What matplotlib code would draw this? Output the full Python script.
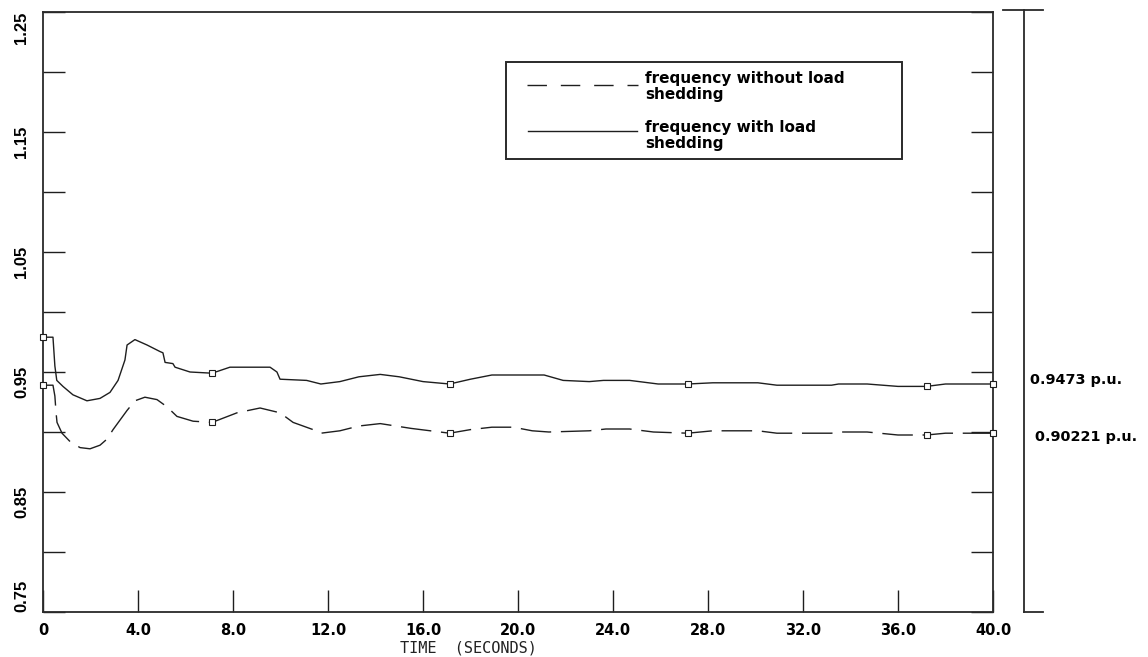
import numpy as np
import matplotlib
matplotlib.use("Agg")
import matplotlib.pyplot as plt
from matplotlib.lines import Line2D
from matplotlib.patches import Rectangle

# ---- frequency response (p.u.) ----
t_shed = [0, 0.42, 0.5, 0.58, 0.84, 1.26, 1.85, 2.4, 2.82, 3.16, 3.45, 3.54, 3.87,
          4.38, 4.93, 5.05, 5.14, 5.47, 5.56, 6.19, 7.12, 7.87, 9.56, 9.85, 9.98,
          11.1, 11.7, 12.5, 13.3, 14.2, 15.0, 16.0, 17.12, 18.0, 18.9, 21.1, 21.9,
          23.0, 23.6, 24.7, 25.9, 27.15, 28.2, 30.1, 30.9, 33.2, 33.5, 34.7, 36.0,
          37.2, 38.0, 40.0]
f_shed = [0.979, 0.979, 0.955, 0.943, 0.938, 0.931, 0.926, 0.928, 0.933, 0.943, 0.960,
          0.9725, 0.977, 0.9725, 0.967, 0.966, 0.958, 0.957, 0.954, 0.950, 0.949,
          0.954, 0.954, 0.950, 0.944, 0.943, 0.940, 0.942, 0.946, 0.948, 0.946, 0.942,
          0.940, 0.944, 0.9475, 0.9475, 0.943, 0.942, 0.943, 0.943, 0.940, 0.940,
          0.941, 0.941, 0.939, 0.939, 0.940, 0.940, 0.938, 0.938, 0.940, 0.940]

t_noshed = [0, 0.42, 0.5, 0.55, 0.59, 0.8, 1.14, 1.56, 1.98, 2.4, 2.69, 2.95, 3.54,
            3.87, 4.29, 4.8, 5.22, 5.64, 6.32, 7.12, 8.17, 9.14, 9.98, 10.53, 11.37,
            11.7, 12.5, 13.3, 14.2, 15.5, 17.12, 18.0, 18.9, 19.8, 20.6, 21.3, 23.0,
            23.7, 24.7, 25.7, 27.15, 28.2, 30.1, 30.9, 33.2, 33.5, 34.7, 36.0, 37.2,
            38.0, 40.0]
f_noshed = [0.939, 0.939, 0.93, 0.916, 0.908, 0.899, 0.892, 0.887, 0.886, 0.889, 0.894,
            0.902, 0.918, 0.926, 0.929, 0.927, 0.921, 0.913, 0.909, 0.908, 0.916, 0.920,
            0.916, 0.908, 0.902, 0.899, 0.901, 0.905, 0.907, 0.903, 0.899, 0.902, 0.904,
            0.904, 0.901, 0.900, 0.901, 0.9025, 0.9025, 0.900, 0.899, 0.901, 0.901,
            0.899, 0.899, 0.900, 0.900, 0.8975, 0.8975, 0.899, 0.899]

mark_times = [0, 7.12, 17.12, 27.15, 37.2, 40.0]

xtick_vals = [0, 4, 8, 12, 16, 20, 24, 28, 32, 36, 40]
xtick_labels = ["0", "4.0", "8.0", "12.0", "16.0", "20.0", "24.0", "28.0", "32.0", "36.0", "40.0"]
ytick_major = [0.75, 0.85, 0.95, 1.05, 1.15, 1.25]
ytick_labels = ["0.75", "0.85", "0.95", "1.05", "1.15", "1.25"]
ytick_minor = [0.80, 0.90, 1.00, 1.10, 1.20]

label_noshed = "frequency without load\nshedding"
label_shed = "frequency with load\nshedding"
final_shed = "0.9473 p.u."
final_noshed = "0.90221 p.u."

INK = "#1e1e1e"
BOLD_WIDE = ["DejaVu Sans"]
NARROW = ["Liberation Sans Narrow", "Liberation Sans", "DejaVu Sans"]

fig = plt.figure(figsize=(11.48, 6.57), dpi=100)
ax = fig.add_axes([43 / 1148, 1 - 612 / 657, 950 / 1148, 600 / 657])

mk_shed = [i for i, t in enumerate(t_shed) if t in mark_times]
mk_noshed = [i for i, t in enumerate(t_noshed) if t in mark_times]

ax.plot(t_shed, f_shed, color=INK, lw=1.0, marker="s", markevery=mk_shed,
        ms=4.5, mfc="white", mec=INK, mew=0.8, clip_on=False, zorder=3)
ax.plot(t_noshed, f_noshed, color=INK, lw=1.0, dashes=(22, 7), marker="s",
        markevery=mk_noshed, ms=4.5, mfc="white", mec=INK, mew=0.8, clip_on=False, zorder=3)

ax.set_xlim(0, 40)
ax.set_ylim(0.75, 1.25)

ax.set_xticks(xtick_vals)
ax.set_xticklabels(xtick_labels, fontfamily=BOLD_WIDE, fontweight="bold", fontsize=10.5)
ax.set_yticks(ytick_major)
ax.set_yticks(ytick_minor, minor=True)
ax.set_yticklabels(ytick_labels, fontfamily=NARROW, fontweight="bold", fontsize=12,
                   rotation=90)
ylabels = ax.get_yticklabels()
ylabels[0].set_va("bottom")
ylabels[-1].set_va("top")

ax.tick_params(axis="x", which="both", direction="in", length=16, width=1.0,
               color=INK, pad=8, top=False)
ax.tick_params(axis="y", which="both", direction="in", length=16, width=1.0,
               color=INK, pad=10, left=True, right=True)

for sp in ax.spines.values():
    sp.set_color("#2a2a2a")
    sp.set_linewidth(1.3)

ax.set_xlabel("TIME  (SECONDS)", fontfamily=["DejaVu Sans Mono"], fontsize=11,
              color="#222222")
ax.xaxis.set_label_coords(0.448, -0.06)
ax.xaxis.label.set_va("center")

# legend box drawn by hand
ax.add_patch(Rectangle((0.4874, 0.755), 0.4168, 0.1617, transform=ax.transAxes,
                       fill=False, ec="#2a2a2a", lw=1.4, zorder=4))
ax.add_line(Line2D([0.5095, 0.6263], [0.878, 0.878], transform=ax.transAxes,
                   color=INK, lw=1.0, dashes=(14, 10), zorder=4))
ax.add_line(Line2D([0.5105, 0.6253], [0.8017, 0.8017], transform=ax.transAxes,
                   color=INK, lw=1.0, zorder=4))
ax.text(0.6337, 0.876, label_noshed, transform=ax.transAxes, ha="left", va="center",
        fontfamily=BOLD_WIDE, fontweight="bold", fontsize=11, linespacing=1.05)
ax.text(0.6337, 0.794, label_shed, transform=ax.transAxes, ha="left", va="center",
        fontfamily=BOLD_WIDE, fontweight="bold", fontsize=11, linespacing=1.05)

# separate scale bar on the right with final values
bar_kw = dict(transform=ax.transAxes, color="#2a2a2a", lw=1.3, clip_on=False)
ax.add_line(Line2D([1.0326, 1.0326], [0.0, 1.003], **bar_kw))
ax.add_line(Line2D([1.0105, 1.0526], [1.003, 1.003], **bar_kw))
ax.add_line(Line2D([1.0326, 1.0526], [0.0, 0.0], **bar_kw))

ytr = ax.get_yaxis_transform()
ax.text(1.0389, 0.9433, final_shed, transform=ytr, ha="left", va="center",
        fontfamily=BOLD_WIDE, fontweight="bold", fontsize=10.4)
ax.text(1.0442, 0.8958, final_noshed, transform=ytr, ha="left", va="center",
        fontfamily=BOLD_WIDE, fontweight="bold", fontsize=10.4)

fig.savefig("out.png", dpi=100, facecolor="white")
